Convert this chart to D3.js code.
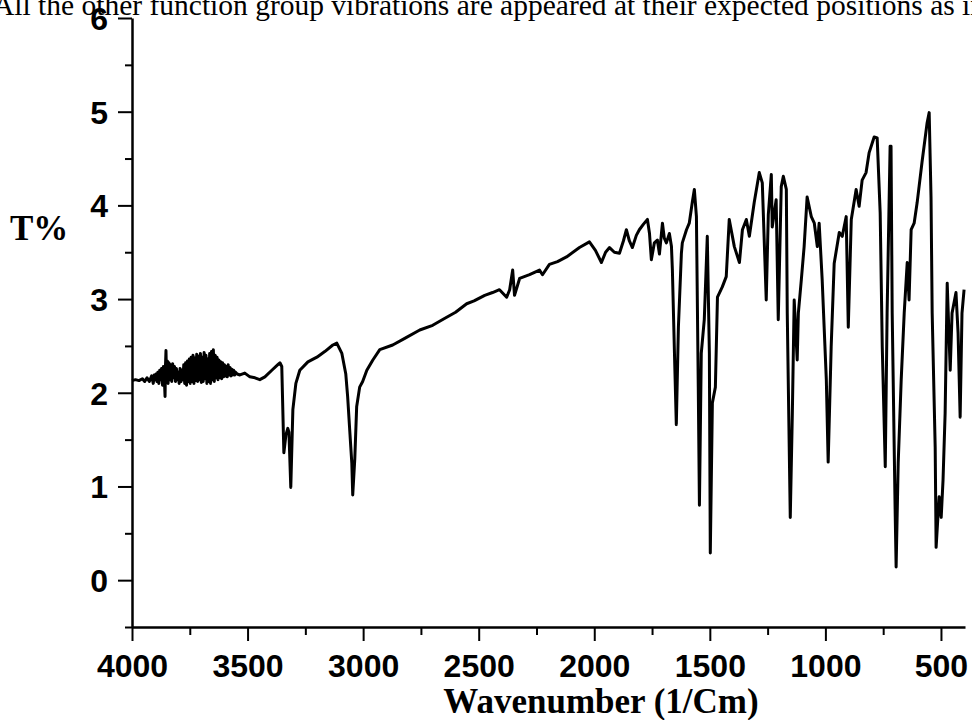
<!DOCTYPE html>
<html lang="en">
<head>
<meta charset="UTF-8">
<title>FTIR spectrum</title>
<script src="https://d3js.org/d3.v7.min.js"></script>
<style>
    body { margin: 0; background: #fff; }
    svg { display: block; }
    .tick text { font-family: "Liberation Sans", Arial, sans-serif; font-weight: 700; font-size: 32px; fill: #000; }
    .title { font-family: "Liberation Serif", "Times New Roman", serif; font-weight: 700; fill: #000; }
</style>
</head>
<body>
<div id="chart"></div>
<script>
    // spectrum (wavenumber in 1/cm, T%)
    const wavenumber = [
        4000, 3985, 3970, 3955, 3945, 3935, 3925, 3915, 3908, 3904,
        3900, 3896, 3892, 3888, 3884, 3880, 3876, 3872, 3868, 3864, 3860, 3857, 3855, 3853, 3850, 3847,
        3844, 3840, 3836, 3832, 3828, 3824, 3820, 3816, 3812, 3808, 3804, 3800, 3796, 3792, 3788, 3784,
        3780, 3776, 3772, 3768, 3764, 3760, 3756, 3752, 3748, 3744, 3740, 3736, 3732, 3728, 3724, 3720,
        3716, 3712, 3708, 3704, 3700, 3696, 3692, 3688, 3684, 3680, 3676, 3672, 3668, 3664, 3660, 3656,
        3652, 3648, 3644, 3640, 3636, 3632, 3628, 3624, 3620, 3616, 3612, 3608, 3604, 3600, 3596, 3592,
        3588, 3584, 3580, 3576, 3572, 3568, 3564, 3560, 3556, 3552, 3545, 3533, 3512, 3490, 3468, 3447,
        3425, 3395, 3369, 3360, 3352, 3343, 3334, 3326, 3321, 3313, 3304, 3291, 3274, 3239, 3200, 3166,
        3131, 3114, 3092, 3075, 3067, 3058, 3049, 3045, 3036, 3028, 3015, 3002, 2984, 2958, 2928, 2872,
        2820, 2755, 2699, 2650, 2600, 2552, 2520, 2474, 2440, 2410, 2379, 2366, 2353, 2345, 2323, 2280,
        2237, 2224, 2194, 2159, 2120, 2064, 2021, 1995, 1969, 1951, 1934, 1913, 1891, 1874, 1861, 1848,
        1835, 1818, 1805, 1787, 1770, 1761, 1753, 1740, 1727, 1718, 1705, 1697, 1688, 1675, 1666, 1662,
        1653, 1645, 1636, 1623, 1619, 1601, 1589, 1576, 1567, 1558, 1550, 1545, 1537, 1524, 1511, 1502,
        1498, 1489, 1476, 1467, 1446, 1429, 1416, 1394, 1372, 1359, 1342, 1329, 1308, 1286, 1273, 1256,
        1247, 1234, 1230, 1213, 1204, 1191, 1182, 1169, 1165, 1152, 1143, 1135, 1122, 1117, 1104, 1092,
        1079, 1061, 1048, 1035, 1027, 1014, 996, 988, 975, 962, 940, 927, 910, 901, 888, 867,
        854, 841, 824, 811, 789, 776, 763, 754, 741, 733, 720, 716, 711, 698, 694, 685,
        672, 659, 646, 638, 629, 616, 603, 582, 560, 551, 543, 538, 525, 521, 508, 499,
        491, 482, 473, 460, 452, 435, 426, 417, 409, 400
    ];
    const transmittance = [
        2.13, 2.14, 2.13, 2.15, 2.12, 2.16, 2.12, 2.18, 2.10, 2.19,
        2.14, 2.20, 2.12, 2.22, 2.10, 2.24, 2.14, 2.26, 2.08, 2.28, 2.15, 1.96, 2.30, 2.45, 2.12, 2.34,
        2.10, 2.32, 2.14, 2.30, 2.12, 2.31, 2.16, 2.28, 2.12, 2.26, 2.14, 2.22, 2.10, 2.26, 2.12, 2.24,
        2.14, 2.30, 2.10, 2.32, 2.08, 2.34, 2.12, 2.36, 2.10, 2.38, 2.12, 2.40, 2.10, 2.37, 2.13, 2.41,
        2.12, 2.39, 2.14, 2.42, 2.11, 2.38, 2.12, 2.43, 2.15, 2.40, 2.10, 2.36, 2.12, 2.42, 2.10, 2.44,
        2.14, 2.46, 2.12, 2.40, 2.16, 2.38, 2.14, 2.35, 2.16, 2.33, 2.15, 2.32, 2.17, 2.30, 2.18, 2.28,
        2.17, 2.30, 2.19, 2.27, 2.18, 2.25, 2.19, 2.24, 2.19, 2.22, 2.20, 2.19, 2.21, 2.17, 2.16, 2.14,
        2.17, 2.24, 2.30, 2.32, 2.28, 1.36, 1.55, 1.62, 1.58, 0.99, 1.82, 2.10, 2.24, 2.33, 2.38, 2.44,
        2.51, 2.53, 2.42, 2.20, 1.96, 1.60, 1.25, 0.91, 1.30, 1.85, 2.06, 2.12, 2.24, 2.35, 2.46, 2.51,
        2.58, 2.67, 2.72, 2.79, 2.86, 2.95, 2.98, 3.04, 3.07, 3.10, 3.02, 3.10, 3.31, 3.04, 3.22, 3.26,
        3.31, 3.26, 3.37, 3.40, 3.45, 3.55, 3.61, 3.52, 3.39, 3.50, 3.55, 3.50, 3.49, 3.62, 3.74, 3.62,
        3.55, 3.68, 3.74, 3.80, 3.85, 3.70, 3.42, 3.60, 3.63, 3.48, 3.81, 3.65, 3.60, 3.70, 3.56, 3.31,
        2.42, 1.66, 2.70, 3.49, 3.60, 3.74, 3.81, 4.03, 4.17, 3.88, 2.06, 0.80, 2.42, 2.78, 3.67, 2.42,
        0.29, 1.89, 2.06, 3.02, 3.13, 3.24, 3.85, 3.56, 3.39, 3.74, 3.85, 3.67, 4.03, 4.35, 4.24, 2.99,
        3.90, 4.33, 3.77, 4.06, 2.78, 4.20, 4.31, 4.17, 2.85, 0.67, 1.78, 2.99, 2.35, 2.85, 3.21, 3.56,
        4.09, 3.88, 3.81, 3.56, 3.81, 3.21, 2.14, 1.26, 2.49, 3.38, 3.71, 3.67, 3.88, 2.70, 3.85, 4.17,
        3.99, 4.27, 4.35, 4.56, 4.73, 4.72, 3.92, 2.49, 1.21, 2.85, 4.63, 4.63, 2.85, 0.71, 0.14, 1.25,
        2.14, 2.85, 3.39, 2.99, 3.74, 3.81, 4.03, 4.46, 4.88, 4.99, 4.09, 2.85, 1.42, 0.35, 0.89, 0.67,
        1.07, 1.78, 3.17, 2.24, 2.85, 3.07, 2.64, 1.74, 2.85, 3.10
    ];

    const xMajor = [4000, 3500, 3000, 2500, 2000, 1500, 1000, 500];
    const xMinor = [3750, 3250, 2750, 2250, 1750, 1250, 750];
    const yMajor = [0, 1, 2, 3, 4, 5, 6];
    const yMinor = [-0.5, 0.5, 1.5, 2.5, 3.5, 4.5, 5.5];

    const spectrum = wavenumber.map((w, i) => ({ w: w, t: transmittance[i] }));

    const width = 972;
    const height = 720;
    const plotLeft = 132, plotRight = 965, plotTop = 18, plotBottom = 627;

    const x = d3.scaleLinear().domain([4000, 396]).range([plotLeft, plotRight]);
    const y = d3.scaleLinear().domain([-0.5, 6]).range([plotBottom, plotTop]);

    const svg = d3.select("#chart")
        .append("svg")
        .attr("width", width)
        .attr("height", height);

    // x axis
    const gx = svg.append("g")
        .attr("transform", `translate(0,${plotBottom})`)
        .call(d3.axisBottom(x).tickValues(xMajor).tickSize(14).tickSizeOuter(0).tickFormat(d3.format("d")));
    svg.append("g")
        .attr("transform", `translate(0,${plotBottom})`)
        .call(d3.axisBottom(x).tickValues(xMinor).tickSize(8).tickFormat(""))
        .select(".domain").remove();
    gx.selectAll(".tick text").attr("y", 50).attr("dy", 0);

    // y axis
    const gy = svg.append("g")
        .attr("transform", `translate(${plotLeft},0)`)
        .call(d3.axisLeft(y).tickValues(yMajor).tickSize(14).tickSizeOuter(0).tickPadding(10).tickFormat(d3.format("d")));
    svg.append("g")
        .attr("transform", `translate(${plotLeft},0)`)
        .call(d3.axisLeft(y).tickValues(yMinor).tickSize(7).tickFormat(""))
        .select(".domain").remove();
    gy.selectAll(".tick text").attr("dy", "0.36em");

    svg.selectAll(".domain").style("stroke", "#000").style("stroke-width", 2.5);
    svg.selectAll(".tick line").style("stroke", "#000").style("stroke-width", 2);

    // spectrum line
    const line = d3.line()
        .x(d => x(d.w))
        .y(d => y(d.t));

    svg.append("path")
        .datum(spectrum)
        .attr("d", line)
        .style("fill", "none")
        .style("stroke", "#000")
        .style("stroke-width", 3)
        .style("stroke-linejoin", "round");

    // caption text cut by the top edge, as in the source page
    svg.append("text")
        .attr("x", -7)
        .attr("y", 15)
        .style("font-family", "'Liberation Serif', 'Times New Roman', serif")
        .style("font-size", "29.5px")
        .text("All the other function group vibrations are appeared at their expected positions as in");

    // axis titles
    svg.append("text")
        .attr("class", "title")
        .attr("x", 10)
        .attr("y", 240)
        .style("font-size", "35px")
        .text("T%");

    svg.append("text")
        .attr("class", "title")
        .attr("x", 601)
        .attr("y", 713)
        .attr("text-anchor", "middle")
        .style("font-size", "35px")
        .text("Wavenumber (1/Cm)");
</script>
</body>
</html>
